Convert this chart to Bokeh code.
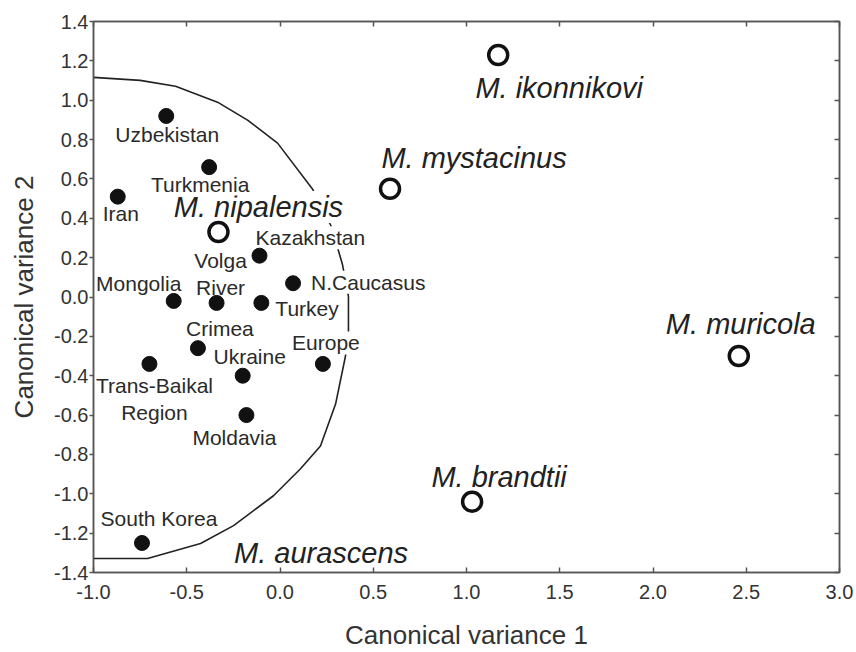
from bokeh.plotting import figure
from bokeh.models import Range1d, LinearAxis, FixedTicker, PrintfTickFormatter, ColumnDataSource
from bokeh.core.properties import value
from bokeh.embed import file_html
from bokeh.resources import INLINE

# ---- data ----
regions = ["Uzbekistan", "Turkmenia", "Iran", "Kazakhstan", "Volga\nRiver", "Mongolia",
           "N.Caucasus", "Turkey", "Crimea", "Ukraine", "Europe", "Trans-Baikal\nRegion",
           "Moldavia", "South Korea"]
region_x = [-0.61, -0.38, -0.87, -0.11, -0.34, -0.57, 0.07, -0.10, -0.44, -0.20, 0.23, -0.70, -0.18, -0.74]
region_y = [0.92, 0.66, 0.51, 0.21, -0.03, -0.02, 0.07, -0.03, -0.26, -0.40, -0.34, -0.34, -0.60, -1.25]

species = ["M. nipalensis", "M. ikonnikovi", "M. mystacinus", "M. muricola", "M. brandtii"]
species_x = [-0.33, 1.17, 0.59, 2.46, 1.03]
species_y = [0.33, 1.23, 0.55, -0.30, -1.04]

group_label = "M. aurascens"
group_label_x = 0.22
group_label_y = -1.30

curve_x = [-1.0, -0.75, -0.56, -0.335, -0.174, -0.013, 0.174, 0.276, 0.335, 0.367, 0.367,
           0.351, 0.298, 0.217, 0.110, -0.035, -0.249, -0.426, -0.710, -1.0]
curve_y = [1.116, 1.101, 1.071, 0.990, 0.899, 0.782, 0.549, 0.357, 0.165, 0.003, -0.175,
           -0.301, -0.544, -0.757, -0.873, -1.010, -1.162, -1.253, -1.329, -1.329]

x_ticks = [-1.0, -0.5, 0.0, 0.5, 1.0, 1.5, 2.0, 2.5, 3.0]
y_ticks = [-1.4, -1.2, -1.0, -0.8, -0.6, -0.4, -0.2, 0.0, 0.2, 0.4, 0.6, 0.8, 1.0, 1.2, 1.4]

# ---- label placement (screen px offsets, y down) ----
region_dx = [1, -9, 3, -4, 4, -35, 18, 14, 22, 7, 3, 5, -12, 17]
region_dy = [19, 17, 17, -18, -29, -17, -1, 6, -20, -19, -21, 35, 22, -24]
region_left = ["Kazakhstan", "N.Caucasus", "Turkey"]
species_dx = [40, 61, 84, 2, 27]
species_dy = [-25, 33, -31, -32, -25]

INK = "#222222"
FRAME = "#555555"
FONT = "Liberation Sans"

p = figure(width=856, height=652, output_backend="svg", toolbar_location=None,
           x_range=Range1d(-1.0, 3.0), y_range=Range1d(-1.4, 1.4),
           min_border_left=93, min_border_right=17, min_border_top=21, min_border_bottom=78)
p.grid.visible = False
p.outline_line_color = FRAME
p.outline_line_width = 1.5
p.background_fill_color = "white"

# axes
for ax in (p.xaxis[0], p.yaxis[0]):
    ax.axis_line_color = FRAME
    ax.axis_line_width = 1.5
    ax.major_tick_line_color = FRAME
    ax.major_tick_line_width = 1.5
    ax.minor_tick_line_color = None
    ax.major_label_text_font = FONT
    ax.major_label_text_font_size = "20px"
    ax.major_label_text_color = "#333333"
    ax.axis_label_text_font = FONT
    ax.axis_label_text_font_size = "26px"
    ax.axis_label_text_font_style = "normal"
    ax.axis_label_text_color = "#333333"
    ax.formatter = PrintfTickFormatter(format="%.1f")

p.xaxis[0].ticker = FixedTicker(ticks=x_ticks)
p.xaxis[0].major_tick_in = 5
p.xaxis[0].major_tick_out = 0
p.xaxis[0].major_label_standoff = 12
p.xaxis[0].axis_label = "Canonical variance 1"
p.xaxis[0].axis_label_standoff = 18

p.yaxis[0].ticker = FixedTicker(ticks=y_ticks)
p.yaxis[0].major_tick_in = 0
p.yaxis[0].major_tick_out = 4
p.yaxis[0].major_label_standoff = 1
p.yaxis[0].axis_label = "Canonical variance 2"
p.yaxis[0].axis_label_standoff = 12

common_ax = dict(major_label_text_font_size="1px", major_label_text_color=None,
                 major_label_standoff=0, major_tick_in=5, major_tick_out=0,
                 minor_tick_line_color=None, axis_line_color=FRAME, axis_line_width=1.5,
                 major_tick_line_color=FRAME, major_tick_line_width=1.5)
top_ax = LinearAxis(ticker=FixedTicker(ticks=x_ticks), **common_ax)
right_ax = LinearAxis(ticker=FixedTicker(ticks=y_ticks), **common_ax)
p.add_layout(top_ax, "above")
p.add_layout(right_ax, "right")

# boundary curve
p.line(curve_x, curve_y, line_color=INK, line_width=1.6)

# species labels (drawn first so region labels stay whole)
sp = ColumnDataSource(dict(x=species_x, y=species_y, t=species, dx=species_dx, dy=species_dy))
p.text(x="x", y="y", text="t", x_offset="dx", y_offset="dy", source=sp,
       text_align="center", text_baseline="middle", text_font=value(FONT),
       text_font_size="29px", text_font_style="italic", text_color="#222222",
       background_fill_color="white", padding=0)
p.text(x=[group_label_x], y=[group_label_y], text=[group_label], text_align="center",
       text_baseline="middle", text_font=value(FONT), text_font_size="29px",
       text_font_style="italic", text_color="#222222")

# region labels
def src(idx):
    return ColumnDataSource(dict(
        x=[region_x[i] for i in idx], y=[region_y[i] for i in idx],
        t=[regions[i] for i in idx],
        dx=[region_dx[i] for i in idx], dy=[region_dy[i] for i in idx]))

center_idx = [i for i, r in enumerate(regions) if r not in region_left]
left_idx = [i for i, r in enumerate(regions) if r in region_left]

common = dict(text_font=value(FONT), text_font_size="21px", text_color="#2a2a2a",
              text_baseline="middle", text_line_height=1.15,
              background_fill_color="white", padding=0)
p.text(x="x", y="y", text="t", x_offset="dx", y_offset="dy", source=src(center_idx),
       text_align="center", **common)
p.text(x="x", y="y", text="t", x_offset="dx", y_offset="dy", source=src(left_idx),
       text_align="left", **common)

# markers
p.scatter(region_x, region_y, size=15, marker="circle", fill_color="#111111", line_color="#111111")
p.scatter(species_x, species_y, size=19, marker="circle", fill_color="white",
          line_color="#111111", line_width=3.5)

open("out.html", "w").write(file_html(p, INLINE))
